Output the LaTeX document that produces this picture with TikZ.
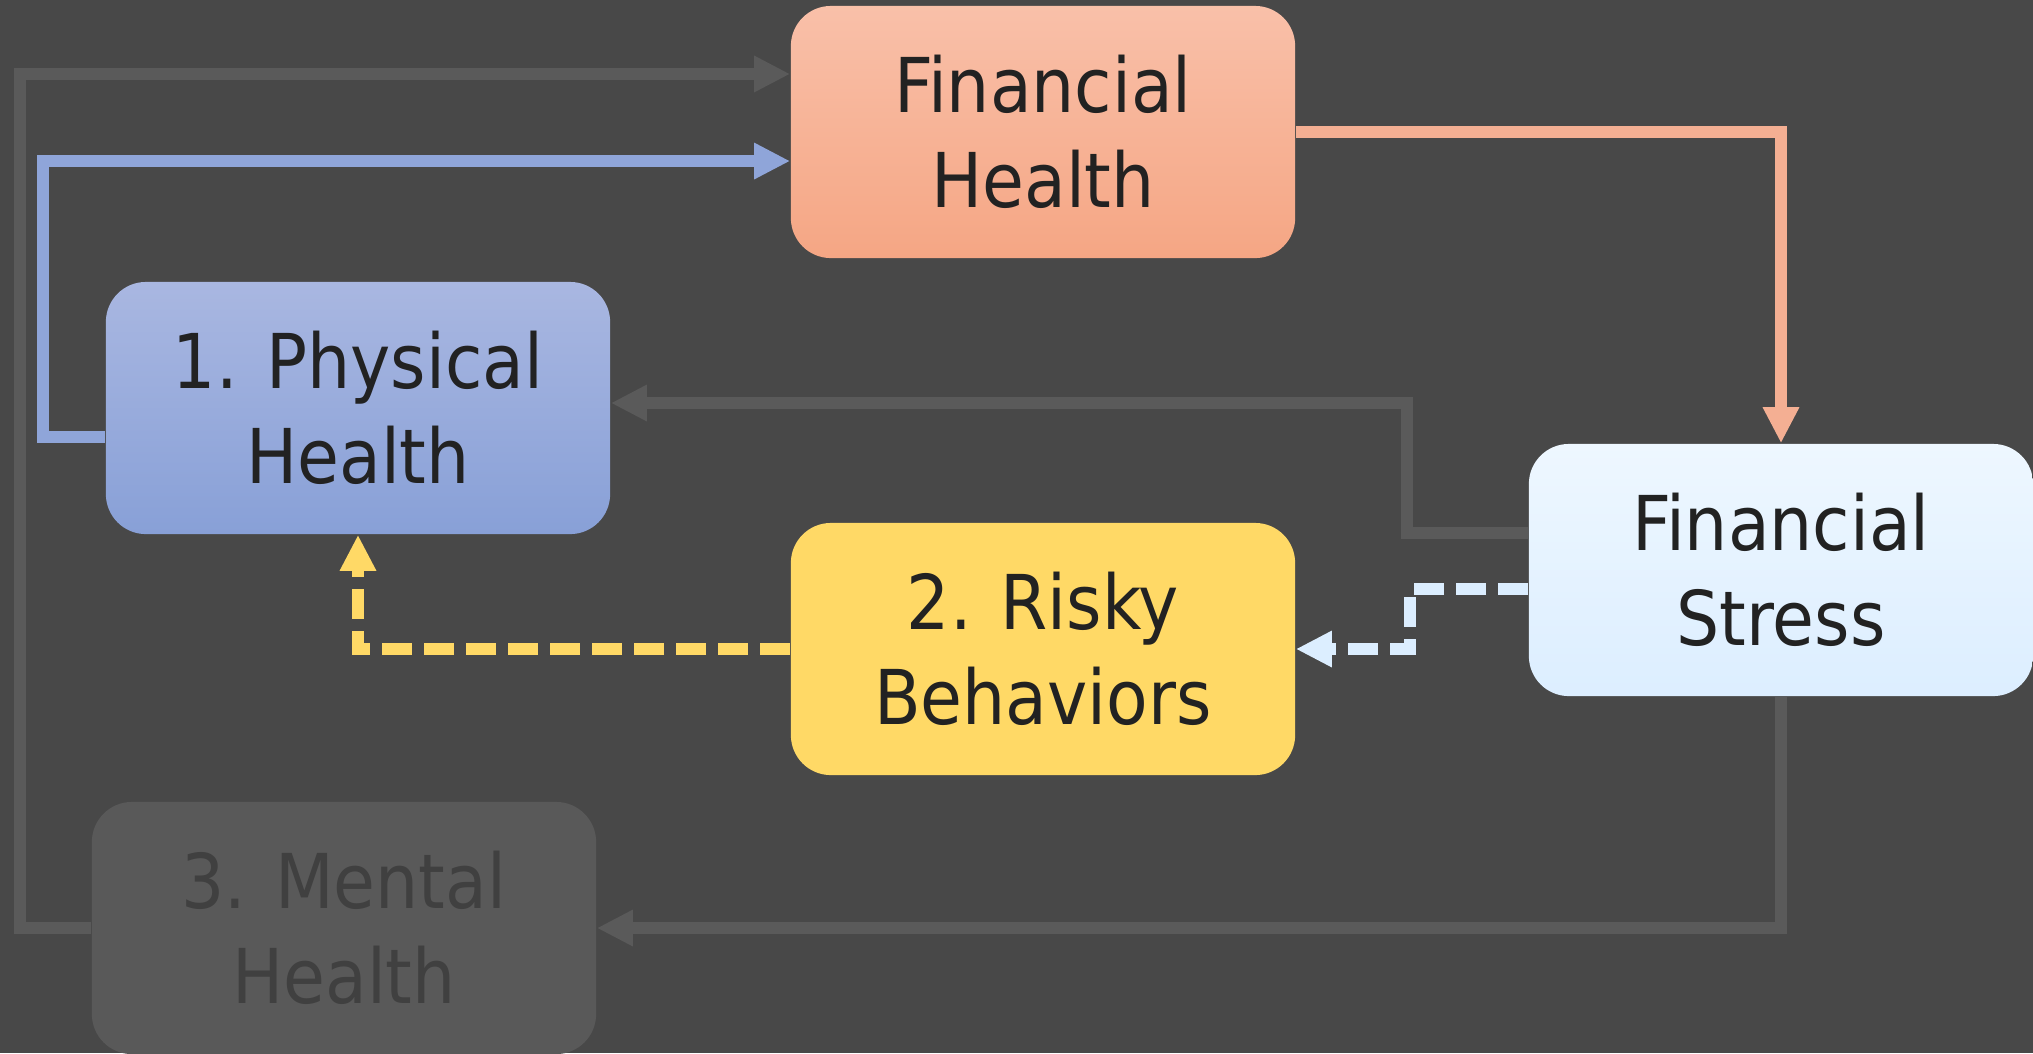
\documentclass[tikz,border=0pt]{standalone}
\usepackage{fontspec}
\setmainfont{DejaVu Sans Condensed}
\usepackage{tikz}
\usetikzlibrary{arrows.meta}
\usepackage{xcolor}

\definecolor{bgdark}{HTML}{484848}
\definecolor{wiregray}{HTML}{5A5A5A}
\definecolor{textdark}{HTML}{222222}
\definecolor{salmontop}{HTML}{F9C0A9}
\definecolor{salmonbot}{HTML}{F5A684}
\definecolor{salmonline}{HTML}{F4AF93}
\definecolor{bluetop}{HTML}{A9B7E1}
\definecolor{bluebot}{HTML}{88A0D7}
\definecolor{blueline}{HTML}{8FA5D9}
\definecolor{riskyfill}{HTML}{FFD966}
\definecolor{stresstop}{HTML}{EEF7FF}
\definecolor{stressbot}{HTML}{DCEEFF}
\definecolor{mentalfill}{HTML}{595959}
\definecolor{mentaltext}{HTML}{404040}

\tikzset{
  box/.style={rounded corners=0.4cm, minimum width=5.04cm, minimum height=2.52cm,
    align=center, inner sep=0pt, text=textdark,
    font=\fontsize{21.5pt}{27pt}\selectfont},
  wire/.style={line width=0.12cm, -{Triangle[length=0.36cm,width=0.34cm]}},
  dashwire/.style={wire, dash pattern=on 0.30cm off 0.12cm}
}

\begin{document}
\begin{tikzpicture}[x=0.01cm,y=-0.01cm]
        \fill[bgdark] (0,0) rectangle (2033,1053);
        \useasboundingbox (0,0) rectangle (2033,1053);
        % boxes
        \draw (1043,132) node[box,top color=salmontop,bottom color=salmonbot](finhealth) {Financial\\Health};
        \draw (358,408) node[box,top color=bluetop,bottom color=bluebot](physical) {1. Physical\\Health};
        \draw (1043,649) node[box,fill=riskyfill](risky) {2. Risky\\Behaviors};
        \draw (1781,570) node[box,top color=stresstop,bottom color=stressbot](stress) {Financial\\Stress};
        \draw (344,928) node[box,fill=mentalfill,text=mentaltext](mental) {3. Mental\\Health};
        % connectors
        \draw[wire,wiregray] (mental.west) -- ++(-71,0) |- ([yshift=0.58cm]finhealth.west);
        \draw[wire,blueline] ([yshift=-0.29cm]physical.west) -- ++(-62,0) |- ([yshift=-0.29cm]finhealth.west);
        \draw[wire,salmonline] (finhealth.east) -| (stress.north);
        \draw[wire,wiregray] ([yshift=0.37cm]stress.west) -- ++(-121,0) |- ([yshift=0.05cm]physical.east);
        \draw[dashwire,stressbot] ([yshift=-0.19cm]stress.west) -- ++(-118,0) |- (risky.east);
        \draw[dashwire,riskyfill] (risky.west) -| (physical.south);
        \draw[wire,wiregray] (stress.south) |- (mental.east);
    \end{tikzpicture}
\end{document}
